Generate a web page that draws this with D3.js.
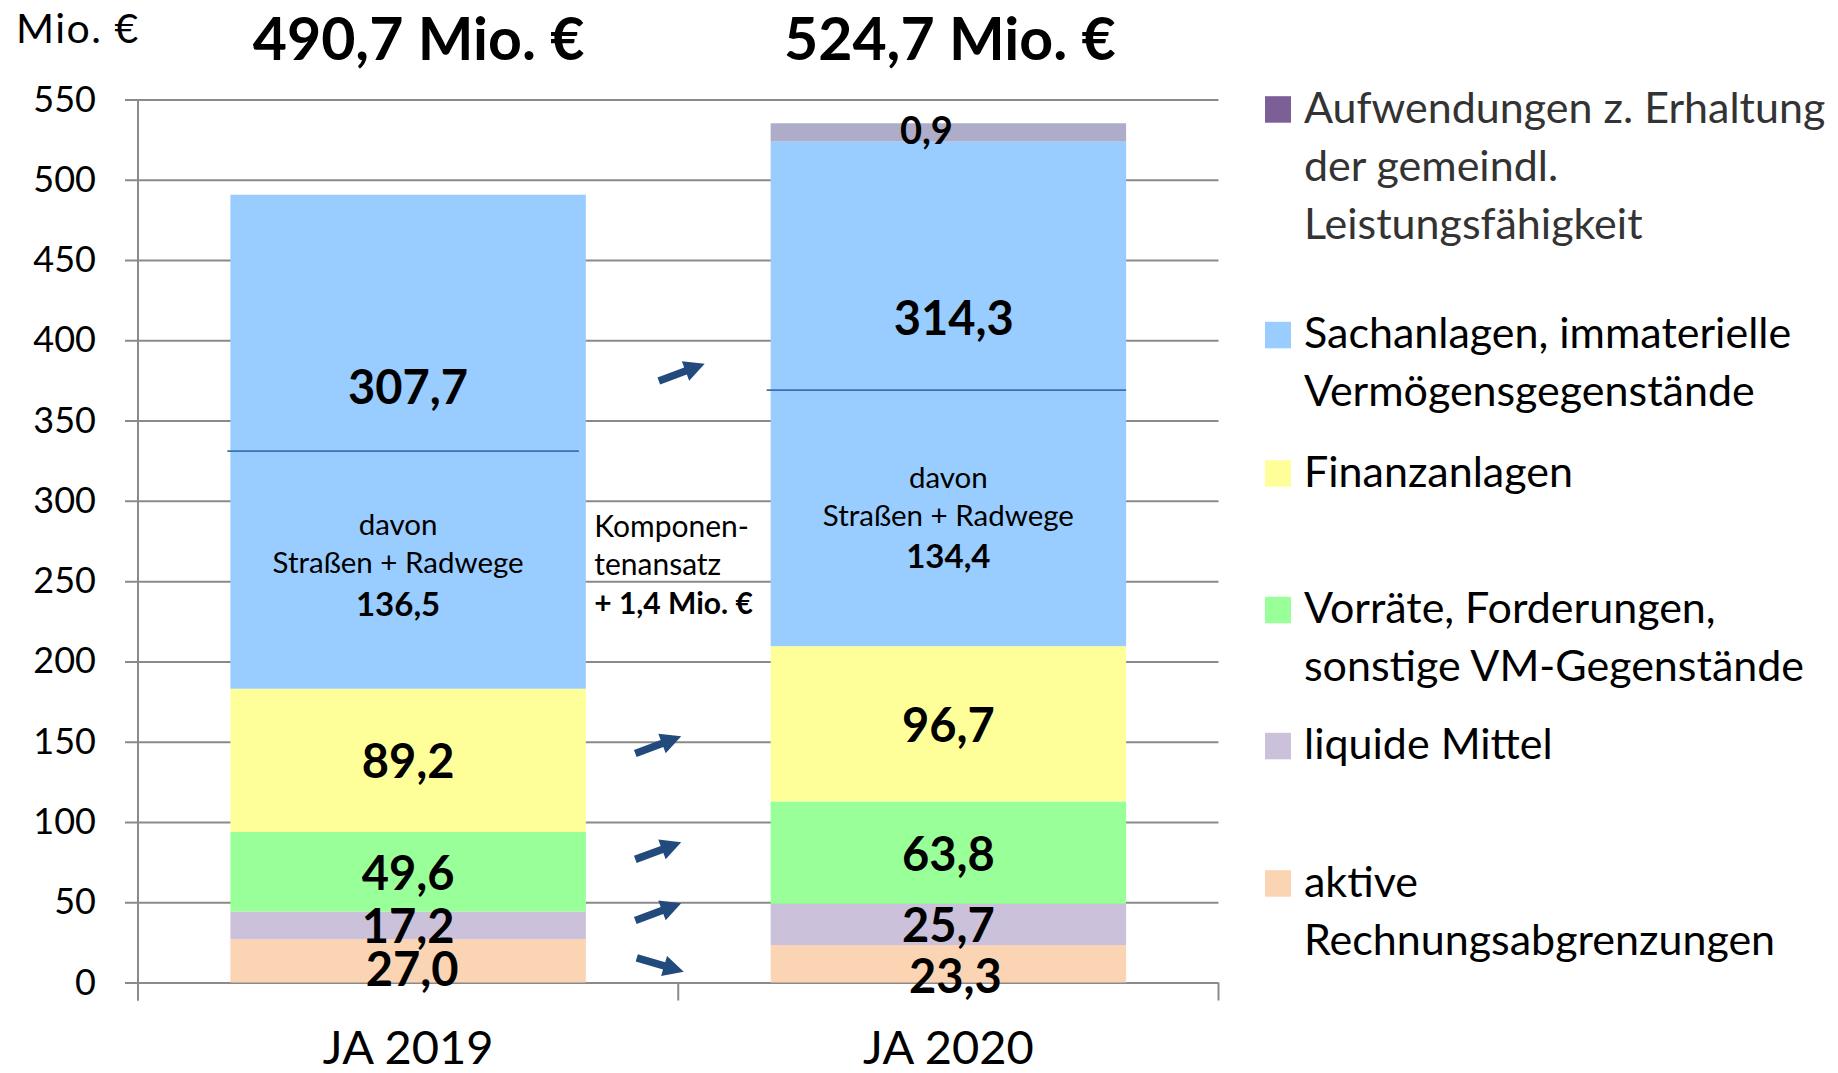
<!DOCTYPE html>
<html><head><meta charset="utf-8">
<script src="https://cdn.jsdelivr.net/npm/d3@7"></script>
<style>
html,body{margin:0;padding:0;background:#fff;}
svg{display:block;font-family:Lato,"Open Sans",sans-serif;}
</style></head><body>
<svg id="chart" width="1838" height="1073"></svg>
<script>
// ---------------- DATA ----------------
const categories = ["JA 2019", "JA 2020"];
const seriesKeys = ["rap", "liquide", "vorraete", "finanz", "sachanlagen", "aufwendungen"];
const rapValues = [27.0, 23.3];
const liquideValues = [17.2, 25.7];
const vorraeteValues = [49.6, 63.8];
const finanzValues = [89.2, 96.7];
const sachanlagenValues = [307.7, 314.3];
const aufwendungenValues = [0, 11.4];          // segment height as drawn in the picture
const aufwendungenLabelValues = [null, 0.9];   // value printed on that segment
const totalValues = [490.7, 524.7];
const davonStrassenValues = [136.5, 134.4];
const komponentenDelta = 1.4;
const yTickValues = [0, 50, 100, 150, 200, 250, 300, 350, 400, 450, 500, 550];
const dividerLevels = [331, 369];              // "davon" separator lines (Mio. €)
const arrowSeries = ["rap", "liquide", "vorraete", "finanz", "sachanlagen"];
const arrowLevels = [11, 44, 82, 148, 380];    // vertical position of change arrows (Mio. €)
const legendLines = [
  ["Aufwendungen z. Erhaltung", "der gemeindl.", "Leistungsfähigkeit"],
  ["Sachanlagen, immaterielle", "Vermögensgegenstände"],
  ["Finanzanlagen"],
  ["Vorräte, Forderungen,", "sonstige VM-Gegenstände"],
  ["liquide Mittel"],
  ["aktive", "Rechnungsabgrenzungen"]
];
const legendKeys = ["aufwendungen", "sachanlagen", "finanz", "vorraete", "liquide", "rap"];

// ---------------- STYLE / LAYOUT ----------------
const colors = {rap:"#FBD4B4", liquide:"#CCC1DA", vorraete:"#99FF99", finanz:"#FFFF99", sachanlagen:"#99CCFF", aufwendungen:"#ADADCA"};
const legendColors = {rap:"#FBD4B4", liquide:"#CCC1DA", vorraete:"#99FF99", finanz:"#FFFF99", sachanlagen:"#99CCFF", aufwendungen:"#7B5F96"};
const plot = {left:138, right:1218.5, y0:982.5, yTop:99.5};
const legendBaselines = [122.7, 348.3, 486.7, 623.3, 759.3, 896.7];
const legendLineH = 58;
const gridColor = "#8a8a8a";

const seriesValues = {rap:rapValues, liquide:liquideValues, vorraete:vorraeteValues, finanz:finanzValues, sachanlagen:sachanlagenValues, aufwendungen:aufwendungenValues};
const rows = categories.map((c, i) => {
  const r = {cat:c};
  seriesKeys.forEach(k => r[k] = seriesValues[k][i]);
  return r;
});

const de = d3.formatLocale({decimal:",", thousands:".", grouping:[3], currency:["", " €"]});
const f1 = de.format(".1f");

const svg = d3.select("#chart");
const y = d3.scaleLinear().domain([0, 550]).range([plot.y0, plot.yTop]);
const xBand = d3.scaleBand().domain(categories).range([plot.left, plot.right]).padding(0);
const barW = xBand.bandwidth() * 0.658;
const cx = c => xBand(c) + xBand.bandwidth() / 2;

// grid
const grid = svg.append("g").attr("transform", `translate(${plot.left},0)`)
  .call(d3.axisLeft(y).tickValues(yTickValues).tickSize(-(plot.right - plot.left)).tickFormat(""));
grid.select(".domain").remove();
grid.selectAll("line").attr("stroke", gridColor).attr("stroke-width", 2).attr("x1", -13);

// y axis labels
const yAx = svg.append("g").attr("transform", `translate(${plot.left},0)`)
  .call(d3.axisLeft(y).tickValues(yTickValues).tickSize(13).tickPadding(29).tickFormat(d3.format("d")));
yAx.select(".domain").remove();
yAx.selectAll("line").remove();
yAx.selectAll("text").attr("font-size", 36).attr("fill", "#000").attr("font-family", "Lato");

// bars
const stack = d3.stack().keys(seriesKeys)(rows);
const layers = svg.append("g").selectAll("g").data(stack).join("g").attr("fill", d => colors[d.key]);
layers.selectAll("rect").data(d => d).join("rect")
  .attr("x", d => cx(d.data.cat) - barW / 2)
  .attr("width", barW)
  .attr("y", d => y(d[1]))
  .attr("height", d => Math.max(0, y(d[0]) - y(d[1])));

// vertical axis line and category ticks
svg.append("line").attr("x1", plot.left).attr("x2", plot.left).attr("y1", y(550)).attr("y2", plot.y0 + 18)
  .attr("stroke", gridColor).attr("stroke-width", 2);
const bounds = categories.map(c => xBand(c)).concat([xBand.range()[1]]);
svg.append("g").selectAll("line").data(bounds).join("line")
  .attr("x1", d => d).attr("x2", d => d).attr("y1", plot.y0).attr("y2", plot.y0 + 18)
  .attr("stroke", gridColor).attr("stroke-width", 2);

// x axis labels
const xAx = svg.append("g").attr("transform", `translate(0,${plot.y0})`)
  .call(d3.axisBottom(xBand).tickSize(0));
xAx.select(".domain").remove();
xAx.selectAll("text").attr("y", 81.5).attr("dy", 0).attr("font-size", 47).attr("fill", "#000").attr("font-family", "Lato");

// divider lines "davon"
svg.append("g").selectAll("line").data(categories).join("line")
  .attr("x1", (c, i) => cx(c) - barW / 2 - (i ? 4 : 3))
  .attr("x2", (c, i) => cx(c) + barW / 2 - (i ? 0 : 7))
  .attr("y1", (c, i) => y(dividerLevels[i])).attr("y2", (c, i) => y(dividerLevels[i]))
  .attr("stroke", "#3F6FB0").attr("stroke-width", 1.6);

// segment labels
const labelNudge = {
  "rap|0": {dx: 4, dy: 25}, "rap|1": {dx: 7, dy: 29},
  "sachanlagen|0": {level: 360.1}, "sachanlagen|1": {dx: 5.5, level: 403.3}
};
const segLabels = [];
stack.forEach(layer => {
  layer.forEach((d, i) => {
    if (layer.key === "aufwendungen") return;
    const n = labelNudge[layer.key + "|" + i] || {};
    const mid = y((d[0] + d[1]) / 2);
    segLabels.push({
      text: f1(d[1] - d[0]),
      x: cx(d.data.cat) + (n.dx || 0),
      y: n.level !== undefined ? y(n.level) : mid + (n.dy !== undefined ? n.dy : 18)
    });
  });
});
svg.append("g").selectAll("text").data(segLabels).join("text")
  .attr("x", d => d.x).attr("y", d => d.y).attr("text-anchor", "middle")
  .attr("font-size", 47).attr("font-weight", "bold").attr("fill", "#000").text(d => d.text);

// small top label (Aufwendungen)
const aufLayer = stack.find(s => s.key === "aufwendungen");
svg.append("g").selectAll("text").data(aufLayer.filter((d, i) => aufwendungenLabelValues[i] !== null))
  .join("text")
  .attr("x", d => cx(d.data.cat) - 22)
  .attr("y", d => y((d[0] + d[1]) / 2) + 12)
  .attr("text-anchor", "middle").attr("font-size", 38).attr("font-weight", "bold").attr("fill", "#000")
  .text(d => f1(aufwendungenLabelValues[categories.indexOf(d.data.cat)]));

// totals above bars
svg.append("g").selectAll("text").data(categories).join("text")
  .attr("x", (c, i) => cx(c) + (i ? 1.5 : 10.5)).attr("y", 59.5).attr("text-anchor", "middle")
  .attr("font-size", 59).attr("font-weight", "bold").attr("fill", "#000")
  .text((c, i) => f1(totalValues[i]) + " Mio. €");

// unit label
svg.append("text").attr("x", 16).attr("y", 43).attr("font-size", 41).attr("letter-spacing", 1.5)
  .attr("fill", "#000").text("Mio. €");

// "davon Straßen + Radwege" annotations
const davonLevels = [[278.5, 255.2, 228.4], [308, 284.4, 258.3]];
const davonDx = [-10, 0];
categories.forEach((c, i) => {
  const g = svg.append("g").attr("text-anchor", "middle").attr("fill", "#000");
  const x = cx(c) + davonDx[i];
  g.append("text").attr("x", x).attr("y", y(davonLevels[i][0])).attr("font-size", 29.5).text("davon");
  g.append("text").attr("x", x).attr("y", y(davonLevels[i][1])).attr("font-size", 29.5).text("Straßen + Radwege");
  g.append("text").attr("x", x).attr("y", y(davonLevels[i][2])).attr("font-size", 33).attr("font-weight", "bold")
    .text(f1(davonStrassenValues[i]));
});

// Komponentenansatz annotation
const kx = bounds[1] - 84;
const kg = svg.append("g").attr("fill", "#000");
kg.append("text").attr("x", kx).attr("y", y(277.8)).attr("font-size", 30).text("Komponen-");
kg.append("text").attr("x", kx).attr("y", y(253.8)).attr("font-size", 30).text("tenansatz");
kg.append("text").attr("x", kx).attr("y", y(229.8)).attr("font-size", 30).attr("font-weight", "bold")
  .text("+ " + f1(komponentenDelta) + " Mio. €");

// change arrows
const arrowPath = "M-24.5,-3.8L4,-3.8L4,-10.5L24.5,0L4,10.5L4,3.8L-24.5,3.8Z";
const arrowDx = [-18, -20, -20, -20, 3.5];
const arrows = arrowSeries.map((k, j) => ({
  up: seriesValues[k][1] > seriesValues[k][0],
  x: bounds[1] + arrowDx[j],
  y: y(arrowLevels[j])
}));
svg.append("g").selectAll("path").data(arrows).join("path")
  .attr("d", arrowPath).attr("fill", "#234A7C")
  .attr("transform", d => `translate(${d.x},${d.y}) rotate(${d.up ? -20.5 : 16.5})`);

// legend
const lg = svg.append("g");
legendKeys.forEach((k, i) => {
  const b = legendBaselines[i];
  lg.append("rect").attr("x", 1265).attr("y", b - 26.5).attr("width", 26).attr("height", 26.5).attr("fill", legendColors[k]);
  legendLines[i].forEach((t, j) => {
    lg.append("text").attr("x", 1304).attr("y", b + j * legendLineH).attr("font-size", 43)
      .attr("fill", k === "aufwendungen" ? "#333" : "#000").text(t);
  });
});
</script>
</body></html>
